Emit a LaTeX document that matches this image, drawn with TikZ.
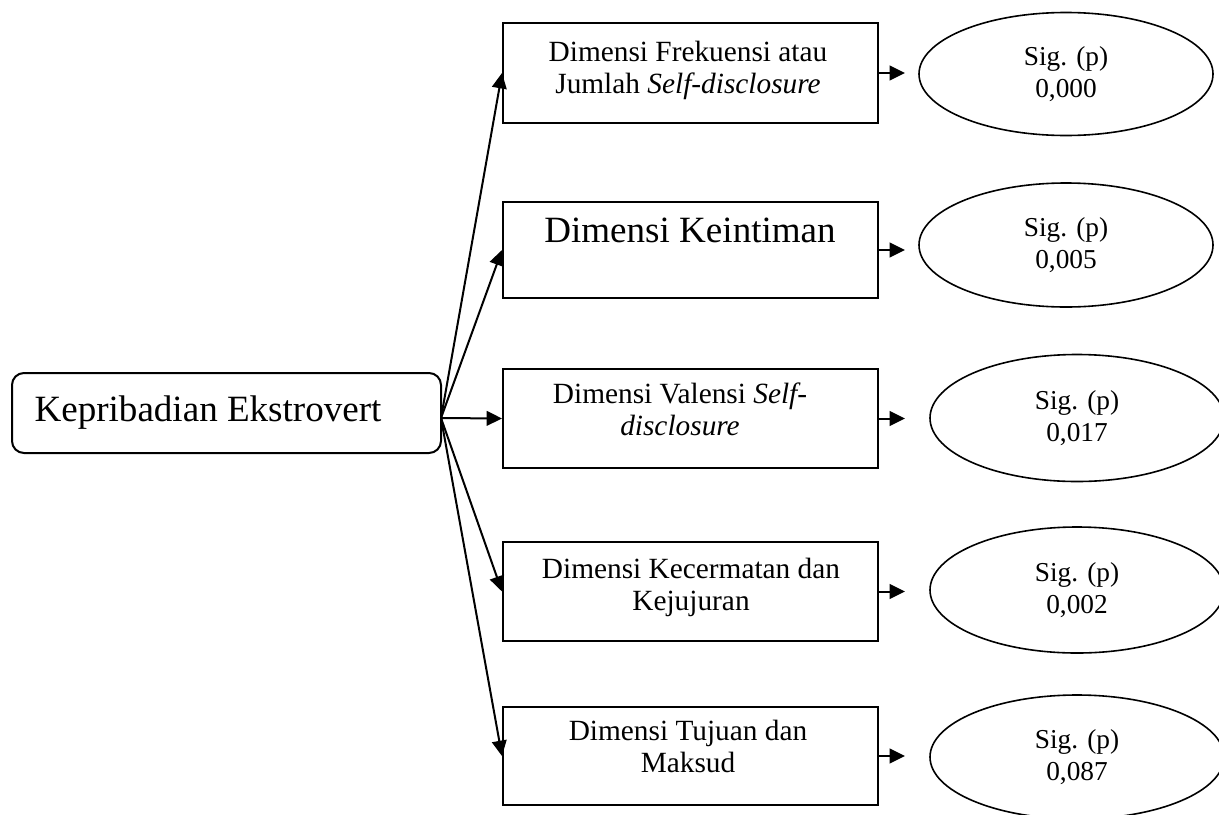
\documentclass[tikz,border=0pt]{standalone}
\usepackage{fontspec}
\setmainfont{Liberation Serif}
\usetikzlibrary{arrows.meta,shapes.geometric,calc}
\newcommand\kepfont{\fontsize{27.8}{31}\selectfont}
\newcommand\dimfont{\fontsize{22}{24}\selectfont}
\newcommand\sigfont{\fontsize{20.5}{24}\selectfont}
\begin{document}
\begin{tikzpicture}[x=0.75pt,y=-0.75pt,line width=1.5pt,
  dimbox/.style={draw,rectangle,inner sep=0pt,minimum width=281.25pt},
  sigell/.style={draw,ellipse,line width=1.2pt,inner sep=0pt,minimum width=220.5pt,align=center,font=\sigfont},
  dimtext/.style={align=center,font=\dimfont,inner sep=0pt},
  arr/.style={-{Triangle[length=11.5pt,width=11pt]}}]
\useasboundingbox (0,0) rectangle (1219,814);
% left box
\node[draw,rectangle,rounded corners=9pt,inner sep=0pt,minimum width=321.75pt,minimum height=60pt] (lb) at (226.5,413) {};
\node[font=\kepfont,inner sep=0pt] (t0) at (208,413) {Kepribadian Ekstrovert};
\coordinate (hub) at (441,418);
% dimension boxes
\node[dimbox,minimum height=75pt] (b1) at (690.5,73) {};
\node[dimbox,minimum height=72pt] (b2) at (690.5,250) {};
\node[dimbox,minimum height=74.25pt] (b3) at (690.5,418.5) {};
\node[dimbox,minimum height=74.25pt] (b4) at (690.5,591.5) {};
\node[dimbox,minimum height=73.5pt] (b5) at (690.5,756) {};
\node[dimtext] (t1) at (688,70) {Dimensi Frekuensi atau\\Jumlah \textit{Self-disclosure}};
\node[font=\kepfont,inner sep=0pt] (t2) at (690,230) {Dimensi Keintiman};
\node[dimtext] (t3) at (680,409) {Dimensi Valensi \textit{Self-}\\\textit{disclosure}};
\node[dimtext] (t4) at (691,587) {Dimensi Kecermatan dan\\Kejujuran};
\node[dimtext] (t5) at (688,746) {Dimensi Tujuan dan\\Maksud};
% ellipses
\node[sigell,minimum height=92.25pt] (e1) at (1066,74) {Sig. (p)\\0,000};
\node[sigell,minimum height=93pt] (e2) at (1066,245) {Sig. (p)\\0,005};
\node[sigell,minimum height=95.25pt] (e3) at (1077,418) {Sig. (p)\\0,017};
\node[sigell,minimum height=94.5pt] (e4) at (1077,590) {Sig. (p)\\0,002};
\node[sigell,minimum height=93pt] (e5) at (1077,757) {Sig. (p)\\0,087};
% connectors
\foreach \b in {b1,b2,b3,b4,b5} \draw[arr] (hub) -- (\b.west);
\coordinate (tipx) at (905,0);
\foreach \b in {b1,b2,b3,b4,b5} \draw[arr] (\b.east) -- (\b.east -| tipx);
\end{tikzpicture}
\end{document}
